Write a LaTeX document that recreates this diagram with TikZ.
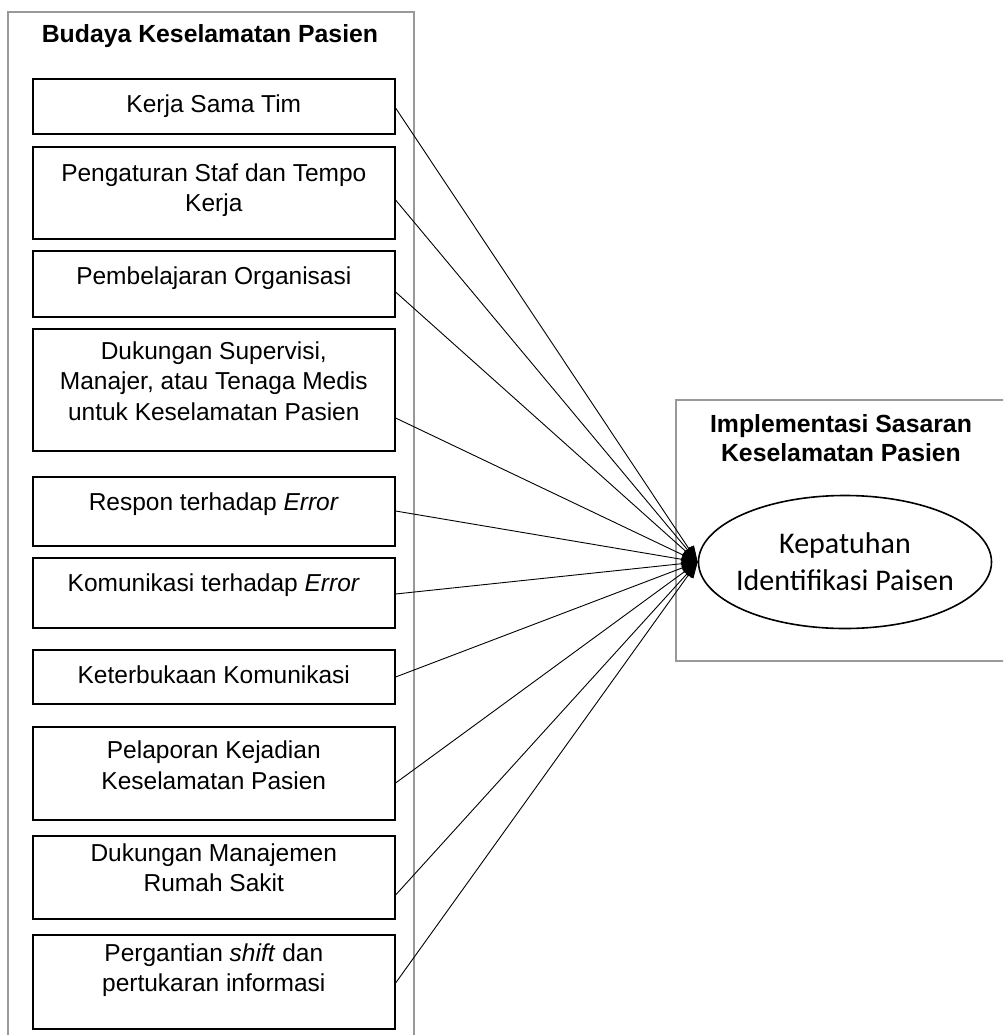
\documentclass[tikz,border=0pt]{standalone}
\usepackage{fontspec}
\setmainfont{Liberation Sans}
\newfontfamily\calibri{Carlito}
\usetikzlibrary{arrows.meta,shapes.geometric}

\definecolor{framegray}{gray}{0.6}

%% box text: height, top gap, text
\newcommand{\factortext}[3]{\parbox[t][#1pt][t]{362pt}{\centering\vspace*{#2pt}\strut #3}}

\tikzset{
  frame/.style={draw=framegray, line width=1.2pt},
  factor/.style={draw, line width=1.6pt, anchor=north west, inner sep=0pt,
    font=\fontsize{24.5}{30.5}\selectfont},
  heading/.style={font=\bfseries\fontsize{24.8}{29}\selectfont, align=center},
  outcome/.style={ellipse, draw, line width=1.6pt, minimum width=293pt,
    minimum height=133pt, inner xsep=-25pt, inner ysep=-10pt, align=center,
    font=\calibri\fontsize{30}{37}\selectfont},
  conn/.style={line width=0.9pt, -{Triangle[length=16pt,width=12pt]}}
}

\begin{document}
\begin{tikzpicture}[x=1pt,y=-1pt]

\useasboundingbox (0,0) rectangle (1003,1035);
\clip (0,0) rectangle (1003,1035);

%% frames
\draw[frame] (8,12) rectangle (414,1045);
\draw[frame] (676,400) rectangle (1015,661);

\node[heading] (budaya) at (210,36) {Budaya Keselamatan Pasien};
\node[heading] (isks) at (841,438) {Implementasi Sasaran\\Keselamatan Pasien};

%% factors
\node[factor] (b1) at (32,78) {\factortext{55}{12}{Kerja Sama Tim}};
\node[factor] (b2) at (32,146) {\factortext{92}{13}{Pengaturan Staf dan Tempo\\Kerja}};
\node[factor] (b3) at (32,250) {\factortext{66}{12}{Pembelajaran Organisasi}};
\node[factor] (b4) at (32,328) {\factortext{122}{9}{Dukungan Supervisi,\\Manajer, atau Tenaga Medis\\untuk Keselamatan Pasien}};
\node[factor] (b5) at (32,476) {\factortext{69}{12.5}{Respon terhadap \textit{Error}}};
\node[factor] (b6) at (32,557) {\factortext{70}{12.5}{Komunikasi terhadap \textit{Error}}};
\node[factor] (b7) at (32,649) {\factortext{54}{12.5}{Keterbukaan Komunikasi}};
\node[factor] (b8) at (32,726) {\factortext{93}{10.5}{Pelaporan Kejadian\\Keselamatan Pasien}};
\node[factor] (b9) at (32,835) {\factortext{83}{4}{Dukungan Manajemen\\Rumah Sakit}};
\node[factor] (b10) at (32,934) {\factortext{94}{5}{Pergantian \textit{shift} dan\\pertukaran informasi}};

%% outcome
\node[outcome] (kp) at (845,562) {Kepatuhan\\Identifikasi Paisen};

%% arrows
\foreach \b/\d in {b1/30, b2/54, b3/42, b4/90, b5/35, b6/37, b7/28, b8/57, b9/60, b10/49}
  \draw[conn] ([yshift=-\d pt]\b.north east) -- (kp.west);

\end{tikzpicture}
\end{document}
